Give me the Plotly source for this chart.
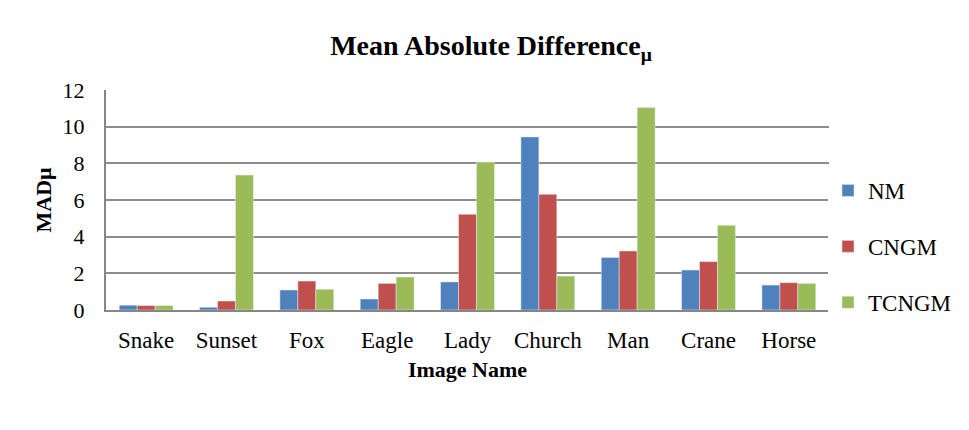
import plotly.graph_objects as go

# Image names and per-method mean absolute difference values
images = ["Snake", "Sunset", "Fox", "Eagle", "Lady", "Church", "Man", "Crane", "Horse"]
nm = [0.26, 0.15, 1.09, 0.60, 1.53, 9.44, 2.87, 2.18, 1.36]
cngm = [0.24, 0.49, 1.58, 1.45, 5.22, 6.31, 3.22, 2.64, 1.49]
tcngm = [0.24, 7.36, 1.13, 1.80, 8.07, 1.85, 11.04, 4.62, 1.45]
y_ticks = [0, 2, 4, 6, 8, 10, 12]

series = [("NM", nm, "#4F81BD"), ("CNGM", cngm, "#C0504D"), ("TCNGM", tcngm, "#9BBB59")]

W, H = 969, 430
ML, MR, MT, MB = 106, 140, 90, 120

fig = go.Figure()
for i, (name, vals, color) in enumerate(series):
    fig.add_trace(go.Bar(x=images, y=vals, name=name, legendgroup=f"g{i}", marker=dict(color=color)))

pw = W - ML - MR
ph = H - MT - MB

fig.update_layout(
    width=W, height=H,
    margin=dict(l=ML, r=MR, t=MT, b=MB),
    paper_bgcolor="white", plot_bgcolor="white",
    barmode="group", bargap=0.33,
    title=dict(text="<b>Mean Absolute Difference<sub>μ</sub></b>",
               x=491 / W, xanchor="center", y=1 - 45 / H, yanchor="middle",
               font=dict(family="Times New Roman", size=28, color="black")),
    xaxis=dict(
        showgrid=False, showline=True, linecolor="#868686", linewidth=2,
        ticks="outside", ticklen=8, tickcolor="white",
        tickfont=dict(family="Times New Roman", size=23, color="black"),
        title=dict(text="<b>Image Name</b>", standoff=10,
                   font=dict(family="Times New Roman", size=22, color="black")),
    ),
    yaxis=dict(
        range=[0, 12], tickvals=y_ticks,
        showgrid=True, gridcolor="#8C8C8C", gridwidth=1.5,
        showline=True, linecolor="#868686", linewidth=2, zeroline=False,
        ticks="outside", ticklen=15, tickcolor="white",
        tickfont=dict(family="serif", size=22, color="black"),
        title=dict(text="<b>MADμ</b>", standoff=5,
                   font=dict(family="Times New Roman", size=22, color="black")),
    ),
    legend=dict(
        x=(828 - ML) / pw, xanchor="left", y=(H - MB - 169) / ph, yanchor="top",
        font=dict(family="serif", size=23, color="black"),
        tracegroupgap=23, traceorder="grouped",
    ),
)

fig.write_html("out.html")
